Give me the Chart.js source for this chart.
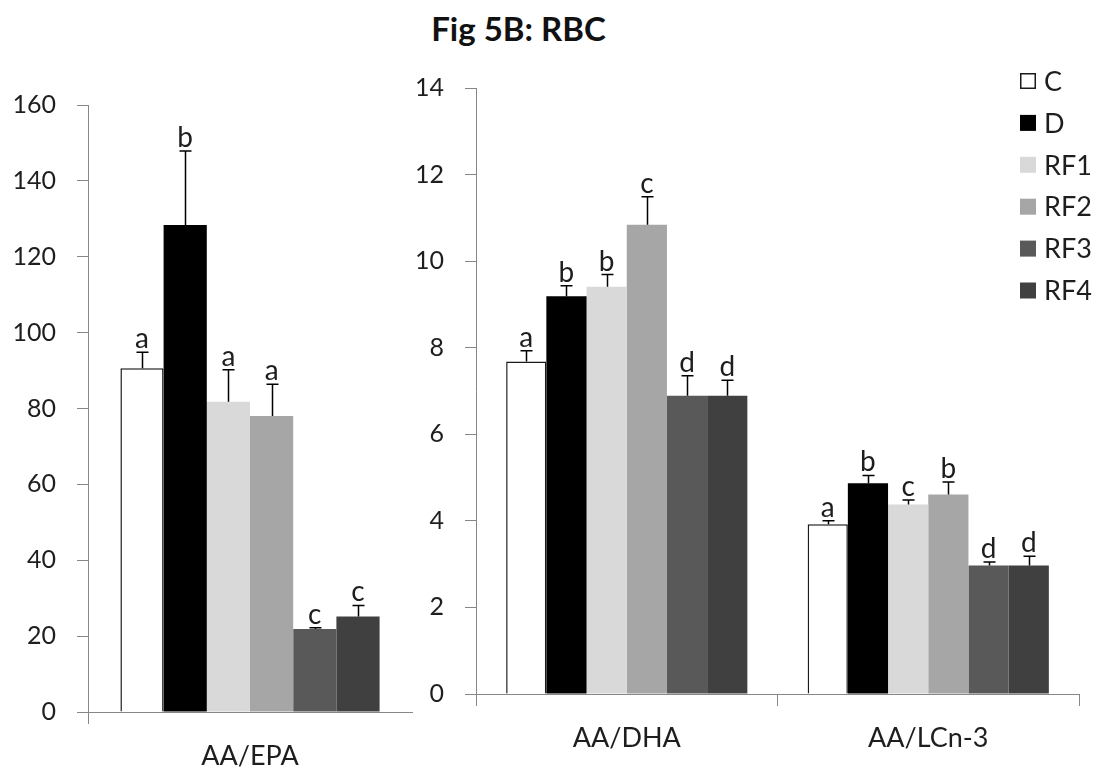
<!DOCTYPE html>
<html>
<head>
<meta charset="utf-8">
<script src="https://cdn.jsdelivr.net/npm/chart.js@4.4.0/dist/chart.umd.min.js"></script>
<style>
  html, body { margin: 0; padding: 0; background: #fff; }
  body { width: 1096px; height: 774px; position: relative; overflow: hidden; }
  #title { position: absolute; left: 0; top: 12px; width: 1037px; text-align: center;
           font: bold 33px Lato, sans-serif; line-height: 33px; color: #111; }
  #c1 { position: absolute; left: 0; top: 0; }
  #c2 { position: absolute; left: 400px; top: 0; }
</style>
</head>
<body>
<div id="title">Fig 5B: RBC</div>
<canvas id="c1" width="430" height="774"></canvas>
<canvas id="c2" width="696" height="774"></canvas>
<script>
// ---- data ----
const categories = ['AA/EPA', 'AA/DHA', 'AA/LCn-3'];
const seriesNames = ['C', 'D', 'RF1', 'RF2', 'RF3', 'RF4'];
const seriesColors = ['#ffffff', '#000000', '#d9d9d9', '#a6a6a6', '#595959', '#404040'];

const valuesC   = [90.6, 7.68, 3.92];
const valuesD   = [128.4, 9.19, 4.87];
const valuesRF1 = [81.8, 9.41, 4.38];
const valuesRF2 = [78.0, 10.84, 4.61];
const valuesRF3 = [21.9, 6.89, 2.97];
const valuesRF4 = [25.2, 6.89, 2.97];

const errC   = [4.2, 0.25, 0.08];
const errD   = [19.5, 0.24, 0.18];
const errRF1 = [8.4, 0.28, 0.10];
const errRF2 = [8.4, 0.65, 0.29];
const errRF3 = [0.3, 0.46, 0.08];
const errRF4 = [2.9, 0.36, 0.21];

const lettersC   = ['a', 'a', 'a'];
const lettersD   = ['b', 'b', 'b'];
const lettersRF1 = ['a', 'b', 'c'];
const lettersRF2 = ['a', 'c', 'b'];
const lettersRF3 = ['c', 'd', 'd'];
const lettersRF4 = ['c', 'd', 'd'];

const leftTicks = [0, 20, 40, 60, 80, 100, 120, 140, 160];
const rightTicks = [0, 2, 4, 6, 8, 10, 12, 14];

const allValues = [valuesC, valuesD, valuesRF1, valuesRF2, valuesRF3, valuesRF4];
const allErrors = [errC, errD, errRF1, errRF2, errRF3, errRF4];
const allLetters = [lettersC, lettersD, lettersRF1, lettersRF2, lettersRF3, lettersRF4];

const FONT = 'Lato, sans-serif';
const AXIS = '#878787';
const TEXT = '#1e1e1e';

function buildDatasets(idx) {
  return seriesNames.map((name, s) => ({
    label: name,
    data: idx.map(i => allValues[s][i]),
    errors: idx.map(i => allErrors[s][i]),
    letters: idx.map(i => allLetters[s][i]),
    backgroundColor: seriesColors[s],
    borderColor: s === 0 ? '#1a1a1a' : seriesColors[s],
    borderWidth: s === 0 ? 1.5 : 0,
    categoryPercentage: 0.8,
    barPercentage: 1.0
  }));
}

const errPlugin = {
  id: 'errbars',
  afterDatasetsDraw(chart) {
    const ctx = chart.ctx, y = chart.scales.y;
    chart.data.datasets.forEach((ds, di) => {
      const meta = chart.getDatasetMeta(di);
      meta.data.forEach((bar, i) => {
        const v = ds.data[i], e = ds.errors[i];
        const yBar = y.getPixelForValue(v);
        const yTop = y.getPixelForValue(v + e);
        const x = Math.round(bar.x) + 0.5;
        ctx.save();
        ctx.strokeStyle = '#000';
        ctx.lineWidth = 1.5;
        ctx.beginPath();
        ctx.moveTo(x, yBar);
        ctx.lineTo(x, yTop);
        ctx.moveTo(x - 6, yTop);
        ctx.lineTo(x + 6, yTop);
        ctx.stroke();
        ctx.font = '28px ' + FONT;
        ctx.fillStyle = TEXT;
        ctx.textAlign = 'center';
        ctx.textBaseline = 'alphabetic';
        ctx.fillText(ds.letters[i], bar.x, yTop - 4);
        ctx.restore();
      });
    });
  }
};

const legendPlugin = {
  id: 'sideLegend',
  afterDraw(chart) {
    const ctx = chart.ctx;
    const x0 = 620, y0 = 81, step = 41.9, sz = 16;
    chart.data.datasets.forEach((ds, i) => {
      const cy = y0 + i * step;
      ctx.save();
      ctx.fillStyle = ds.backgroundColor;
      ctx.fillRect(x0, cy - sz / 2, sz, sz);
      if (i === 0) {
        ctx.strokeStyle = '#1a1a1a';
        ctx.lineWidth = 1.5;
        ctx.strokeRect(x0 + 0.75, cy - sz / 2 + 0.75, sz - 1.5, sz - 1.5);
      }
      ctx.font = '27px ' + FONT;
      ctx.fillStyle = TEXT;
      ctx.textAlign = 'left';
      ctx.textBaseline = 'middle';
      ctx.fillText(ds.label, x0 + 24, cy + 1);
      ctx.restore();
    });
  }
};

function makeOptions(cfg) {
  const hidden = (c) => cfg.hideLastX && c.type !== 'tick';
  return {
    responsive: false,
    animation: false,
    events: [],
    layout: { padding: { top: cfg.top, right: cfg.right, left: 0, bottom: 0 } },
    plugins: { legend: { display: false }, tooltip: { enabled: false }, title: { display: false } },
    scales: {
      x: {
        grid: {
          offset: true, drawOnChartArea: false, drawTicks: true, tickLength: 12,
          color: (c) => hidden(c) ? 'rgba(0,0,0,0)' : AXIS,
          lineWidth: (c) => hidden(c) ? 0 : 1
        },
        border: { display: true, color: AXIS, width: 1 },
        ticks: { font: { family: FONT, size: 27 }, color: TEXT, padding: 16 },
        afterFit: (s) => { s.height = cfg.xh; }
      },
      y: {
        min: cfg.min, max: cfg.max,
        afterBuildTicks: (s) => { s.ticks = cfg.ticks.map(v => ({ value: v })); },
        grid: { drawOnChartArea: false, drawTicks: true, tickLength: 11, color: AXIS, lineWidth: 1 },
        border: { display: true, color: AXIS, width: 1 },
        ticks: { font: { family: FONT, size: 25 }, color: TEXT, padding: 21 },
        afterFit: (s) => { s.width = cfg.yw; }
      }
    }
  };
}

new Chart(document.getElementById('c1'), {
  type: 'bar',
  data: { labels: [categories[0]], datasets: buildDatasets([0]) },
  options: makeOptions({ top: 105, right: 18, xh: 62, yw: 88, min: 0, max: 160, ticks: leftTicks, hideLastX: true }),
  plugins: [errPlugin]
});

new Chart(document.getElementById('c2'), {
  type: 'bar',
  data: { labels: [categories[1], categories[2]], datasets: buildDatasets([1, 2]) },
  options: makeOptions({ top: 88, right: 17, xh: 80, yw: 76, min: 0, max: 14, ticks: rightTicks, hideLastX: false }),
  plugins: [errPlugin, legendPlugin]
});
</script>
</body>
</html>
